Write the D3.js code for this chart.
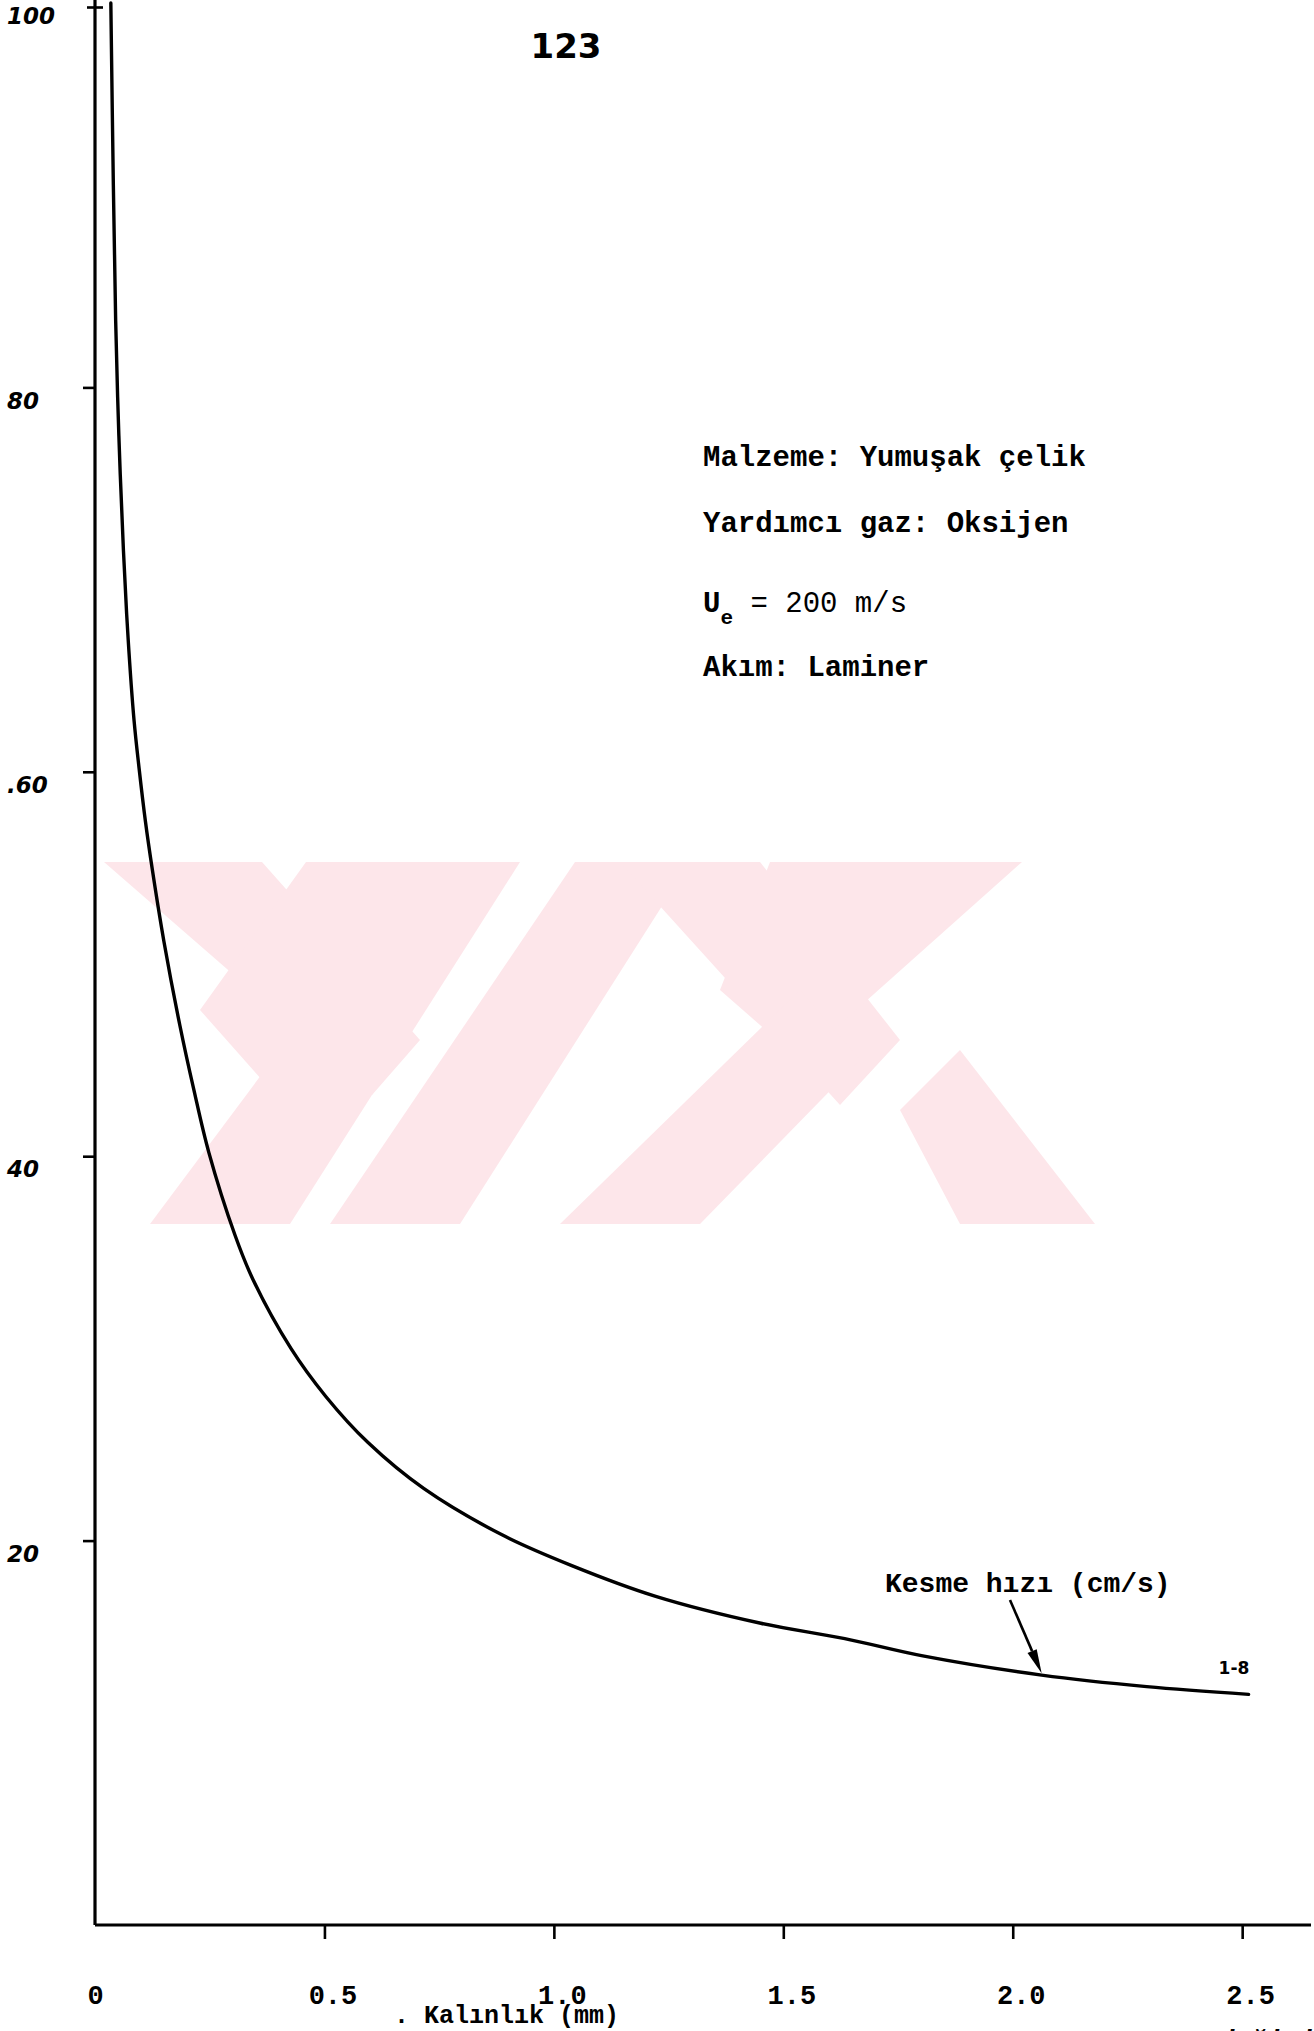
<!DOCTYPE html>
<html>
<head>
<meta charset="utf-8">
<script src="https://cdn.jsdelivr.net/npm/d3@7"></script>
<style>
  body { margin: 0; background: #fff; }
  svg { display: block; }
</style>
</head>
<body>
<svg id="chart" width="1314" height="2031"></svg>
<script>
// Kesme hızı (cm/s) – kalınlık (mm) eğrisi
const thickness    = [0.0345, 0.040, 0.045, 0.052, 0.062, 0.072, 0.085, 0.096, 0.110, 0.125, 0.150, 0.185, 0.215, 0.248, 0.305, 0.344, 0.427, 0.503, 0.595, 0.717, 0.887, 1.039, 1.222, 1.451, 1.634, 1.804, 2.063, 2.292, 2.514];
const cuttingSpeed = [100,    90.5,  83.5,  77.5,  71.5,  67.0,  62.7,  60.2,  57.4,  54.9,  51.2,  46.8,  43.5,  40.2,  35.9,  33.6,  30.0,  27.5,  25.1,  22.7,  20.3,  18.7,  17.1,  15.7,  14.9,  14.0,  13.0,  12.4,  12.0];

const xTickValues = [0, 0.5, 1.0, 1.5, 2.0, 2.5];
const xTickLabels = ["0", "0.5", "1.0", "1.5", "2.0", "2.5"];
const yTickValues = [20, 40, 60, 80, 100];
const yTickLabels = ["20", "40", ".60", "80", "100"];

const infoLines = ["Malzeme: Yumuşak çelik", "Yardımcı gaz: Oksijen", "U|e| = 200 m/s", "Akım: Laminer"];
const seriesLabel = "Kesme hızı (cm/s)";
const arrowAt = 2.063;          // eğri üzerinde okun gösterdiği kalınlık
const curveTag = "1-8";
const xTitle = "Kalınlık (mm)";
const captionTail = "değişimi";
const pageNumber = "123";

const svg = d3.select("#chart");
const mono = "'Liberation Mono', 'DejaVu Sans Mono', monospace";
const hand = "'DejaVu Sans', 'Noto Sans', sans-serif";

const x = d3.scaleLinear().domain([0, 2.65]).range([95, 1311]);
const y = d3.scaleLinear().domain([0, 100]).range([1925, 3]);

// soluk pembe filigran
const wm = svg.append("g").attr("fill", "#fde6ea");
const bands = [
  [[104,862],[262,862],[420,1040],[372,1095]],
  [[306,862],[460,862],[262,1080],[200,1010]],
  [[150,1224],[290,1224],[520,862],[420,862]],
  [[330,1224],[460,1224],[690,862],[575,862]],
  [[620,862],[760,862],[900,1040],[840,1105]],
  [[770,862],[1022,862],[800,1060],[720,990]],
  [[560,1224],[700,1224],[860,1060],[800,990]],
  [[900,1110],[960,1050],[1095,1224],[960,1224]]
];
wm.selectAll("polygon").data(bands).join("polygon")
  .attr("points", d => d.map(p => p.join(",")).join(" "));

// eksenler
const xAxis = d3.axisBottom(x)
  .tickValues(xTickValues)
  .tickSize(14)
  .tickFormat((d, i) => xTickLabels[i]);
const gx = svg.append("g").attr("transform", `translate(0,${y(0)})`).call(xAxis);
gx.select(".domain").attr("stroke", "#000").attr("stroke-width", 3.2)
  .attr("d", `M${x.range()[0]},0H${x.range()[1]}`);
gx.selectAll(".tick line").attr("stroke", "#000").attr("stroke-width", 2.6)
  .attr("display", d => d === 0 ? "none" : null);
gx.selectAll(".tick text")
  .attr("y", 79).attr("dy", 0).attr("dx", d => d === 0 ? 0 : 8)
  .attr("font-family", mono).attr("font-weight", "bold")
  .attr("font-size", 27).attr("fill", "#000");

const yAxis = d3.axisLeft(y)
  .tickValues(yTickValues)
  .tickSize(12)
  .tickFormat((d, i) => yTickLabels[i]);
const gy = svg.append("g").attr("transform", `translate(${x(0)},0)`).call(yAxis);
gy.select(".domain").attr("stroke", "#000").attr("stroke-width", 3.2)
  .attr("d", `M0,0V${y(0)}`);
gy.selectAll(".tick line").attr("stroke", "#000").attr("stroke-width", 2.6);
gy.selectAll(".tick").filter(d => d === 100).select("line").attr("x2", 8).attr("x1", -8)
  .attr("transform", "translate(0,4)");
gy.selectAll(".tick text")
  .attr("x", -88).attr("dy", "0.9em")
  .attr("text-anchor", "start")
  .attr("font-family", hand).attr("font-weight", "bold").attr("font-style", "italic")
  .attr("font-size", 23).attr("fill", "#000");

// eğri
const pts = thickness.map((t, i) => [t, cuttingSpeed[i]]);
const line = d3.line().x(d => x(d[0])).y(d => y(d[1])).curve(d3.curveCatmullRom.alpha(0.5));
svg.append("path").datum(pts)
  .attr("d", line)
  .attr("fill", "none").attr("stroke", "#000").attr("stroke-width", 3.4)
  .attr("stroke-linecap", "round");

// bilgi metni
const info = svg.append("g")
  .attr("font-family", mono).attr("font-weight", "bold")
  .attr("font-size", 29).attr("fill", "#000");
const lineY = [466, 532, 612, 676];
infoLines.forEach((s, i) => {
  const t = info.append("text").attr("x", 703).attr("y", lineY[i]);
  if (s.includes("|")) {
    const parts = s.split("|");
    t.append("tspan").text(parts[0]);
    t.append("tspan").attr("font-size", 21).attr("dy", 12).text(parts[1]);
    t.append("tspan").attr("dy", -12).attr("font-weight", "normal").text(parts[2]);
  } else {
    t.text(s);
  }
});

// seri etiketi ve ok
const labelX = 885, labelY = 1592;
svg.append("text").attr("x", labelX).attr("y", labelY)
  .attr("font-family", mono).attr("font-weight", "bold")
  .attr("font-size", 28).attr("fill", "#000").text(seriesLabel);

const tipIdx = thickness.indexOf(arrowAt);
const tip = [x(arrowAt), y(cuttingSpeed[tipIdx]) - 2];
const start = [labelX + 125, labelY + 8];
const ang = Math.atan2(tip[1] - start[1], tip[0] - start[0]);
const hl = 24, hw = 5;
const back = [tip[0] - hl * Math.cos(ang), tip[1] - hl * Math.sin(ang)];
svg.append("line")
  .attr("x1", start[0]).attr("y1", start[1])
  .attr("x2", back[0]).attr("y2", back[1])
  .attr("stroke", "#000").attr("stroke-width", 2.6);
svg.append("polygon")
  .attr("points", [
    tip,
    [back[0] + hw * Math.sin(ang), back[1] - hw * Math.cos(ang)],
    [back[0] - hw * Math.sin(ang), back[1] + hw * Math.cos(ang)]
  ].map(p => p.join(",")).join(" "))
  .attr("fill", "#000");

// eğri ucu etiketi
svg.append("text")
  .attr("x", x(thickness[thickness.length - 1]) - 30)
  .attr("y", y(cuttingSpeed[cuttingSpeed.length - 1]) - 20)
  .attr("font-family", hand).attr("font-weight", "bold")
  .attr("font-size", 17).attr("fill", "#000").text(curveTag);

// eksen başlığı
svg.append("text").attr("x", 394).attr("y", 2023)
  .attr("font-family", mono).attr("font-weight", "bold")
  .attr("font-size", 25).attr("fill", "#000").text(". " + xTitle);

// alt yazının sayfa kenarında kalan kısmı
svg.append("text").attr("x", 1218).attr("y", 2049)
  .attr("font-family", mono).attr("font-weight", "bold").attr("font-style", "italic")
  .attr("font-size", 27).attr("fill", "#000").text(captionTail);

// sayfa numarası
svg.append("text").attr("x", 566).attr("y", 58)
  .attr("text-anchor", "middle")
  .attr("font-family", hand).attr("font-weight", "bold")
  .attr("font-size", 34).attr("fill", "#000").text(pageNumber);
</script>
</body>
</html>
